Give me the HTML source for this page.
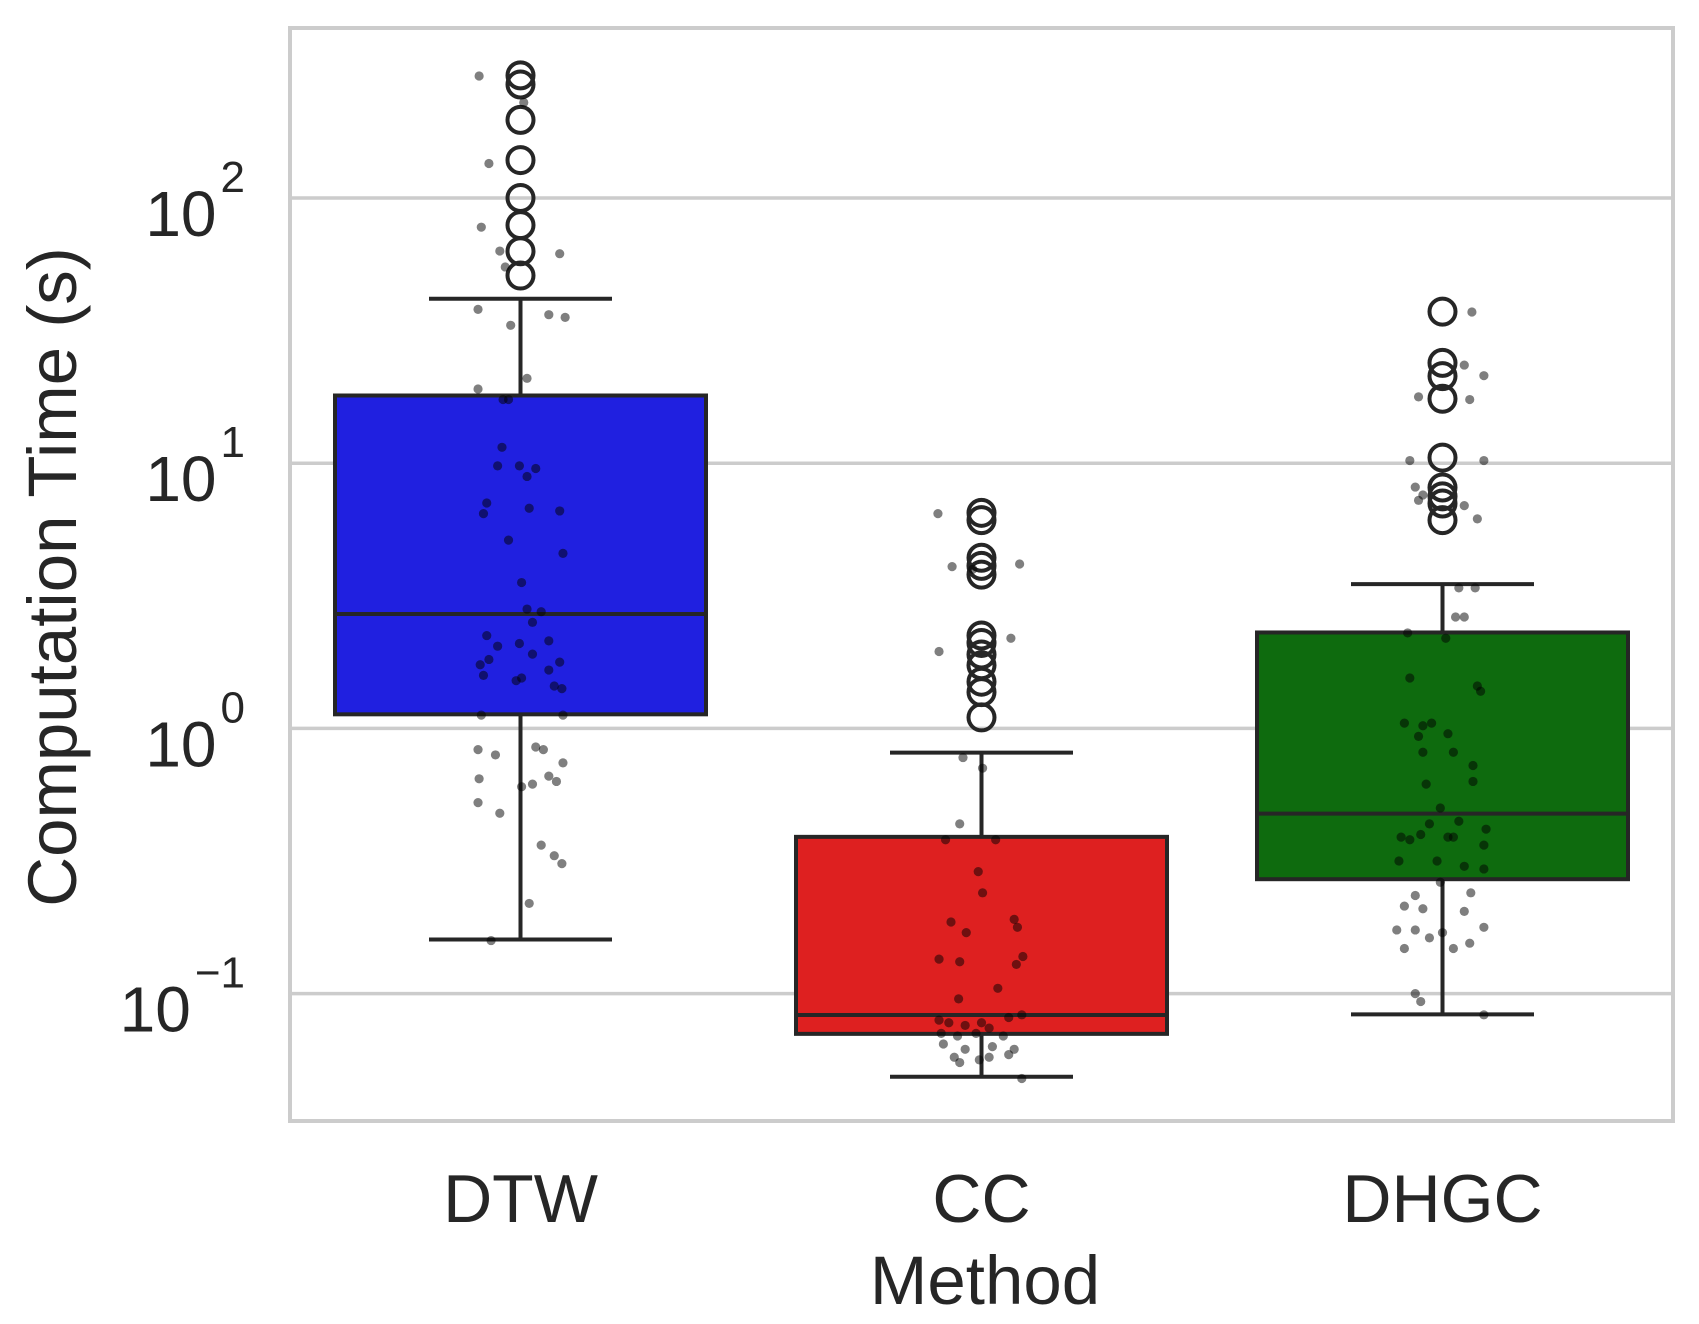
<!DOCTYPE html>
<html><head><meta charset="utf-8"><style>
html,body{margin:0;padding:0;background:#fff;}
svg{display:block;font-family:"Liberation Sans",sans-serif;}
</style></head><body>
<svg id="chart" width="1699" height="1324" viewBox="0 0 1699 1324" xmlns="http://www.w3.org/2000/svg">
<rect x="0" y="0" width="1699" height="1324" fill="#fff"/>
<g id="grid"></g>
<g id="marks"></g>
<rect x="290" y="28" width="1383" height="1093" fill="none" stroke="#cccccc" stroke-width="4"/>
<g id="yticks"></g>
<g id="xticks"></g>
<text transform="translate(76,577) rotate(-90)" text-anchor="middle" font-size="69" fill="#262626">Computation Time (s)</text>
<text x="985" y="1304" text-anchor="middle" font-size="69" fill="#262626">Method</text>
</svg>
<script>
const categories = ["DTW", "CC", "DHGC"];
const boxColors = ["#2020e0", "#de2020", "#0e6b0e"];
const q1 = [1.13, 0.0705, 0.27];
const medians = [2.7, 0.083, 0.477];
const q3 = [18, 0.39, 2.3];
const whiskerLow = [0.16, 0.0486, 0.0835];
const whiskerHigh = [41.7, 0.81, 3.5];
const outliers = [
  [290, 268, 197, 139, 100, 79, 63, 51],
  [6.5, 6.1, 4.4, 4.1, 3.8, 2.24, 2.1, 1.9, 1.73, 1.5, 1.37, 1.1],
  [37.3, 23.9, 21.3, 17.5, 10.5, 8.1, 7.5, 7.05, 6.1]
];
const yTickExponents = [-1, 0, 1, 2];
const dtwLog = [2.46,2.36,2.13,1.89,1.80,1.79,1.74,1.58,1.56,1.52,1.55,1.32,1.28,1.24,1.24,1.06,0.99,0.99,0.98,0.95,0.85,0.81,0.83,0.82,0.71,0.66,0.55,0.45,0.44,0.40,0.35,0.33,0.31,0.32,0.26,0.24,0.28,0.25,0.20,0.19,0.22,0.16,0.15,0.18,0.05,0.05,-0.08,-0.10,-0.07,-0.08,-0.13,-0.19,-0.18,-0.22,-0.21,-0.20,-0.28,-0.32,-0.44,-0.48,-0.51,-0.66,-0.80];
const dtwJitter = [-38,3,-29,-36,-19,36,-14,-39,26,-9,41,6,-39,-16,-11,-17,-21,-1,14,6,-31,-34,8,36,-11,39,1,6,19,11,-31,26,-21,-1,-29,-37,11,36,-34,1,26,31,38,-4,-36,39,-39,-23,14,21,39,-38,26,1,11,33,-39,-19,19,31,38,8,-27];
const ccLog = [0.81,0.61,0.60,0.62,0.29,0.34,-0.11,-0.15,-0.36,-0.42,-0.42,-0.54,-0.62,-0.73,-0.72,-0.77,-0.75,-0.87,-0.88,-0.86,-0.89,-0.98,-1.02,-1.10,-1.11,-1.12,-1.11,-1.13,-1.09,-1.08,-1.15,-1.16,-1.15,-1.16,-1.19,-1.21,-1.20,-1.21,-1.24,-1.25,-1.23,-1.26,-1.24,-1.32];
const ccJitter = [-40,-27,-8,35,-39,27,-17,1,-20,-33,13,-3,1,-28,30,-14,33,-39,-20,38,32,15,-21,-39,-30,-15,0,7,25,37,-37,-22,-5,20,-35,-15,10,30,-25,-2,25,-20,7,37];
const dhgcLog = [1.57,1.37,1.33,1.25,1.24,1.01,1.01,0.91,0.88,0.86,0.84,0.79,0.53,0.53,0.42,0.42,0.36,0.34,0.19,0.16,0.14,0.02,0.01,0.02,-0.02,-0.03,-0.09,-0.09,-0.14,-0.20,-0.21,-0.30,-0.36,-0.35,-0.41,-0.42,-0.40,-0.41,-0.41,-0.38,-0.44,-0.50,-0.50,-0.52,-0.53,-0.58,-0.62,-0.63,-0.67,-0.68,-0.69,-0.76,-0.76,-0.77,-0.75,-0.79,-0.83,-0.83,-0.81,-1.00,-1.03,-1.08];
const dhgcJitter = [27,20,38,-22,25,-30,38,-25,-18,-22,20,32,15,30,20,12,-32,3,-30,32,35,-35,-18,-10,5,-22,-18,10,28,28,-15,-2,-12,15,-38,-30,-20,10,5,40,38,-40,-5,20,38,-2,26,-25,-35,-18,20,-42,-25,0,38,-12,-35,10,25,-25,-20,38];
const stripLogs = [dtwLog, ccLog, dhgcLog];
const stripJitter = [dtwJitter, ccJitter, dhgcJitter];

const NS = "http://www.w3.org/2000/svg";
const plotLeft = 290, plotRight = 1673;
const yDec2 = 198, decPx = 265.2;
function yLog(l){ return yDec2 + (2 - l) * decPx; }
function yScale(v){ return yLog(Math.log10(v)); }
const band = (plotRight - plotLeft) / categories.length;
function xScale(i){ return plotLeft + band * (i + 0.5); }
const boxW = 371, capW = 183, jitterScale = 1.089;
function mk(tag, attrs, parent){
  const e = document.createElementNS(NS, tag);
  for (const k in attrs) e.setAttribute(k, attrs[k]);
  parent.appendChild(e);
  return e;
}
const grid = document.getElementById('grid');
const marks = document.getElementById('marks');
const yt = document.getElementById('yticks');
const xt = document.getElementById('xticks');

yTickExponents.forEach(ex => {
  const y = yLog(ex);
  const ln = mk('line', {x1: plotLeft, x2: plotRight, y1: y, y2: y, stroke: '#cccccc', 'stroke-width': 3.5}, grid);
  
  
  const t = mk('text', {x: 245, y: y + 38, 'text-anchor': 'end', 'font-size': 64, fill: '#262626'}, yt);
  
  
  t.appendChild(document.createTextNode('10'));
  const s = mk('tspan', {dx: 4, dy: -44, 'font-size': 44}, t);
  s.textContent = ex < 0 ? '\u2212' + (-ex) : String(ex);
});

categories.forEach((c, i) => {
  const cx = xScale(i);
  const g = mk('g', {}, marks);
  
  
  const stroke = '#262626', sw = 4;
  const wl = mk('line', {x1: cx, x2: cx, y1: yScale(q1[i]), y2: yScale(whiskerLow[i]), stroke, 'stroke-width': sw}, g);
  
  
  const wh = mk('line', {x1: cx, x2: cx, y1: yScale(q3[i]), y2: yScale(whiskerHigh[i]), stroke, 'stroke-width': sw}, g);
  
  
  [whiskerLow[i], whiskerHigh[i]].forEach(v => {
    const cap = mk('line', {x1: cx - capW/2, x2: cx + capW/2, y1: yScale(v), y2: yScale(v), stroke, 'stroke-width': sw}, g);
    
    
  });
  const r = mk('rect', {x: cx - boxW/2, y: yScale(q3[i]), width: boxW, height: yScale(q1[i]) - yScale(q3[i]), fill: boxColors[i], stroke, 'stroke-width': sw}, g);
  
  
  const m = mk('line', {x1: cx - boxW/2, x2: cx + boxW/2, y1: yScale(medians[i]), y2: yScale(medians[i]), stroke, 'stroke-width': sw}, g);
  
  
  outliers[i].forEach(v => {
    const o = mk('circle', {cx, cy: yScale(v), r: 13, fill: 'none', stroke, 'stroke-width': 4}, g);
    
    
  });
  stripLogs[i].forEach((l, j) => {
    const d = mk('circle', {cx: cx + stripJitter[i][j] * jitterScale, cy: yLog(l), r: 4.6, fill: '#000', 'fill-opacity': 0.5}, g);
    
    
  });
  const t = mk('text', {x: cx, y: 1222, 'text-anchor': 'middle', 'font-size': 68, fill: '#262626'}, xt);
  
  
  t.textContent = c;
});
</script>
</body></html>
